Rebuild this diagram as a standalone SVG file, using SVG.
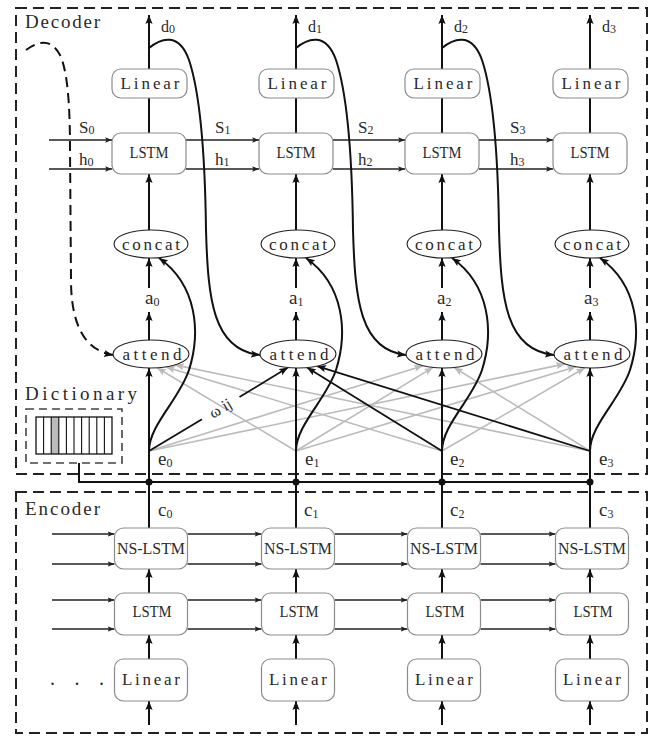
<svg xmlns="http://www.w3.org/2000/svg" width="656" height="736" viewBox="0 0 656 736">
<style>
.mono{font-family:"Liberation Serif","DejaVu Serif",serif;fill:#2a2a2a}
.serif{font-family:"Liberation Serif","DejaVu Serif",serif;fill:#2a2a2a}
.box{fill:#fff;stroke:#8c8c8c;stroke-width:1.2}
.ell{fill:#fff;stroke:#222;stroke-width:1.1}
.frame{fill:none;stroke:#222;stroke-width:2;stroke-dasharray:11 6}
.th{stroke:#111;stroke-width:2;fill:none}
.tn{stroke:#222;stroke-width:1.3;fill:none}
.gr{stroke:#bbb;stroke-width:1.6;fill:none}
.bl{stroke:#111;stroke-width:1.8;fill:none}
.lb{font-size:16px;text-anchor:middle}
.ml{font-size:17px;text-anchor:middle}
.sub{font-size:12px}
</style>
<defs>
<marker id="ak" viewBox="0 0 10 8" refX="10" refY="4" markerWidth="9" markerHeight="7.5" markerUnits="userSpaceOnUse" orient="auto"><path d="M0,0 L10,4 L0,8 L2,4 z" fill="#111"/></marker>
<marker id="ag" viewBox="0 0 10 8" refX="10" refY="4" markerWidth="9" markerHeight="7.5" markerUnits="userSpaceOnUse" orient="auto"><path d="M0,0 L10,4 L0,8 L2,4 z" fill="#bbb"/></marker>
<marker id="as" viewBox="0 0 10 8" refX="10" refY="4" markerWidth="7" markerHeight="5.5" markerUnits="userSpaceOnUse" orient="auto"><path d="M0,0 L10,4 L0,8 L2,4 z" fill="#222"/></marker>
</defs>
<rect width="656" height="736" fill="#fff"/>

<g id="frames">
<rect class="frame" x="16" y="8" width="631" height="466"/>
<rect class="frame" x="16" y="492" width="631" height="241"/>
<text class="mono" x="25" y="28" font-size="19" textLength="75" lengthAdjust="spacing">Decoder</text>
<text class="mono" x="25" y="515" font-size="19" textLength="75" lengthAdjust="spacing">Encoder</text>
</g>

<g id="connectors">
<!-- gray attention lines -->
<line class="gr" x1="296" y1="451" x2="157" y2="367.8" marker-end="url(#ag)"/>
<line class="gr" x1="442" y1="451" x2="166" y2="366.9" marker-end="url(#ag)"/>
<line class="gr" x1="590" y1="451" x2="175" y2="364.9" marker-end="url(#ag)"/>
<line class="gr" x1="149" y1="451" x2="423" y2="365.7" marker-end="url(#ag)"/>
<line class="gr" x1="296" y1="451" x2="433" y2="367.4" marker-end="url(#ag)"/>
<line class="gr" x1="590" y1="451" x2="454" y2="367.5" marker-end="url(#ag)"/>
<line class="gr" x1="149" y1="451" x2="565" y2="363.9" marker-end="url(#ag)"/>
<line class="gr" x1="296" y1="451" x2="576" y2="366.7" marker-end="url(#ag)"/>
<line class="gr" x1="442" y1="451" x2="585" y2="367.8" marker-end="url(#ag)"/>
<!-- black attention lines to attend1 -->
<line class="bl" x1="149" y1="451" x2="202" y2="419.3"/>
<line class="bl" x1="239.5" y1="397" x2="288" y2="367.5" marker-end="url(#ak)"/>
<line class="bl" x1="442" y1="451" x2="307" y2="367.6" marker-end="url(#ak)"/>
<line class="bl" x1="590" y1="451" x2="317" y2="366.1" marker-end="url(#ak)"/>
<text class="serif" transform="translate(220.5,408.5) rotate(-30.8)" x="0" y="5" font-size="16" text-anchor="middle">ω ij</text>

<!-- decoder horizontal S/h arrows -->
<line class="tn" x1="49" y1="140" x2="112" y2="140" marker-end="url(#as)"/>
<line class="tn" x1="49" y1="169" x2="112" y2="169" marker-end="url(#as)"/>
<line class="tn" x1="186" y1="140" x2="259" y2="140" marker-end="url(#as)"/>
<line class="tn" x1="186" y1="169" x2="259" y2="169" marker-end="url(#as)"/>
<line class="tn" x1="333" y1="140" x2="405" y2="140" marker-end="url(#as)"/>
<line class="tn" x1="333" y1="169" x2="405" y2="169" marker-end="url(#as)"/>
<line class="tn" x1="479" y1="140" x2="553" y2="140" marker-end="url(#as)"/>
<line class="tn" x1="479" y1="169" x2="553" y2="169" marker-end="url(#as)"/>

<!-- decoder verticals -->
<g class="th">
<line x1="149" y1="69" x2="149" y2="15" marker-end="url(#ak)"/>
<line x1="296" y1="69" x2="296" y2="15" marker-end="url(#ak)"/>
<line x1="442" y1="69" x2="442" y2="15" marker-end="url(#ak)"/>
<line x1="590" y1="69" x2="590" y2="15" marker-end="url(#ak)"/>
<line x1="149" y1="133" x2="149" y2="98"/>
<line x1="296" y1="133" x2="296" y2="98"/>
<line x1="442" y1="133" x2="442" y2="98"/>
<line x1="590" y1="133" x2="590" y2="98"/>
<line x1="149" y1="230" x2="149" y2="174" marker-end="url(#ak)"/>
<line x1="296" y1="230" x2="296" y2="174" marker-end="url(#ak)"/>
<line x1="442" y1="230" x2="442" y2="174" marker-end="url(#ak)"/>
<line x1="590" y1="230" x2="590" y2="174" marker-end="url(#ak)"/>
<line x1="149" y1="288" x2="149" y2="258" marker-end="url(#ak)"/>
<line x1="296" y1="288" x2="296" y2="258" marker-end="url(#ak)"/>
<line x1="442" y1="288" x2="442" y2="258" marker-end="url(#ak)"/>
<line x1="590" y1="288" x2="590" y2="258" marker-end="url(#ak)"/>
<line x1="149" y1="340" x2="149" y2="312" marker-end="url(#ak)"/>
<line x1="296" y1="340" x2="296" y2="312" marker-end="url(#ak)"/>
<line x1="442" y1="340" x2="442" y2="312" marker-end="url(#ak)"/>
<line x1="590" y1="340" x2="590" y2="312" marker-end="url(#ak)"/>
<line x1="149" y1="528" x2="149" y2="368" marker-end="url(#ak)"/>
<line x1="296" y1="528" x2="296" y2="368" marker-end="url(#ak)"/>
<line x1="442" y1="528" x2="442" y2="368" marker-end="url(#ak)"/>
<line x1="590" y1="528" x2="590" y2="368" marker-end="url(#ak)"/>
<!-- d curves to next attend -->
<path d="M149,48 C161,38 179,32 189,60 C199,90 205,150 206,230 C208,300 213,350 260,355" marker-end="url(#ak)"/>
<path d="M296,48 C308,38 326,32 336,60 C346,90 352,150 353,230 C355,300 360,350 406,355" marker-end="url(#ak)"/>
<path d="M442,48 C454,38 472,32 482,60 C492,90 498,150 499,230 C501,300 506,350 554,355" marker-end="url(#ak)"/>
<!-- e curves to concat -->
<path d="M149,451 C149,425 179,400 189,370 C201,332 197,285 159,258" marker-end="url(#ak)"/>
<path d="M296,451 C296,425 326,400 336,370 C348,332 344,285 306,258" marker-end="url(#ak)"/>
<path d="M442,451 C442,425 472,400 482,370 C494,332 490,285 452,258" marker-end="url(#ak)"/>
<path d="M590,451 C590,425 620,400 630,370 C642,332 638,285 600,258" marker-end="url(#ak)"/>
<!-- encoder verticals -->
<line x1="149" y1="725" x2="149" y2="701" marker-end="url(#ak)"/>
<line x1="296" y1="725" x2="296" y2="701" marker-end="url(#ak)"/>
<line x1="442" y1="725" x2="442" y2="701" marker-end="url(#ak)"/>
<line x1="590" y1="725" x2="590" y2="701" marker-end="url(#ak)"/>
<line x1="149" y1="659" x2="149" y2="635" marker-end="url(#ak)"/>
<line x1="296" y1="659" x2="296" y2="635" marker-end="url(#ak)"/>
<line x1="442" y1="659" x2="442" y2="635" marker-end="url(#ak)"/>
<line x1="590" y1="659" x2="590" y2="635" marker-end="url(#ak)"/>
<line x1="149" y1="593" x2="149" y2="569" marker-end="url(#ak)"/>
<line x1="296" y1="593" x2="296" y2="569" marker-end="url(#ak)"/>
<line x1="442" y1="593" x2="442" y2="569" marker-end="url(#ak)"/>
<line x1="590" y1="593" x2="590" y2="569" marker-end="url(#ak)"/>
<!-- bus -->
<path d="M79,463 V482 H590"/>
</g>
<path d="M26,50 C36,43 50,36 60,55 C67,70 70,100 70,150 L71,280 C71,320 82,350 113,355" fill="none" stroke="#111" stroke-width="2" stroke-dasharray="10 6" marker-end="url(#ak)"/>
<g fill="#111">
<circle cx="149" cy="482" r="3.5"/><circle cx="296" cy="482" r="3.5"/><circle cx="442" cy="482" r="3.5"/><circle cx="590" cy="482" r="3.5"/>
</g>
<!-- encoder horizontals -->
<g class="tn">
<line x1="52" y1="534" x2="114.5" y2="534" marker-end="url(#as)"/>
<line x1="52" y1="564" x2="114.5" y2="564" marker-end="url(#as)"/>
<line x1="52" y1="600" x2="114.5" y2="600" marker-end="url(#as)"/>
<line x1="52" y1="629" x2="114.5" y2="629" marker-end="url(#as)"/>
<line x1="187.5" y1="534" x2="261.5" y2="534" marker-end="url(#as)"/>
<line x1="187.5" y1="564" x2="261.5" y2="564" marker-end="url(#as)"/>
<line x1="187.5" y1="600" x2="261.5" y2="600" marker-end="url(#as)"/>
<line x1="187.5" y1="629" x2="261.5" y2="629" marker-end="url(#as)"/>
<line x1="334.5" y1="534" x2="407.5" y2="534" marker-end="url(#as)"/>
<line x1="334.5" y1="564" x2="407.5" y2="564" marker-end="url(#as)"/>
<line x1="334.5" y1="600" x2="407.5" y2="600" marker-end="url(#as)"/>
<line x1="334.5" y1="629" x2="407.5" y2="629" marker-end="url(#as)"/>
<line x1="480.5" y1="534" x2="555.5" y2="534" marker-end="url(#as)"/>
<line x1="480.5" y1="564" x2="555.5" y2="564" marker-end="url(#as)"/>
<line x1="480.5" y1="600" x2="555.5" y2="600" marker-end="url(#as)"/>
<line x1="480.5" y1="629" x2="555.5" y2="629" marker-end="url(#as)"/>
</g>
</g>

<!-- decoder nodes -->
<g id="dec-linear-0"><rect class="box" x="112" y="69" width="75" height="29" rx="9"/><text class="mono ml" x="150" y="89" textLength="59" lengthAdjust="spacing">Linear</text></g>
<g id="dec-linear-1"><rect class="box" x="259" y="69" width="75" height="29" rx="9"/><text class="mono ml" x="297" y="89" textLength="59" lengthAdjust="spacing">Linear</text></g>
<g id="dec-linear-2"><rect class="box" x="405" y="69" width="75" height="29" rx="9"/><text class="mono ml" x="443" y="89" textLength="59" lengthAdjust="spacing">Linear</text></g>
<g id="dec-linear-3"><rect class="box" x="553" y="69" width="75" height="29" rx="9"/><text class="mono ml" x="591" y="89" textLength="59" lengthAdjust="spacing">Linear</text></g>

<g id="dec-lstm-0"><rect class="box" x="112" y="133" width="74" height="41" rx="9"/><text class="serif lb" x="149" y="158" textLength="39" lengthAdjust="spacingAndGlyphs">LSTM</text></g>
<g id="dec-lstm-1"><rect class="box" x="259" y="133" width="74" height="41" rx="9"/><text class="serif lb" x="296" y="158" textLength="39" lengthAdjust="spacingAndGlyphs">LSTM</text></g>
<g id="dec-lstm-2"><rect class="box" x="405" y="133" width="74" height="41" rx="9"/><text class="serif lb" x="442" y="158" textLength="39" lengthAdjust="spacingAndGlyphs">LSTM</text></g>
<g id="dec-lstm-3"><rect class="box" x="553" y="133" width="74" height="41" rx="9"/><text class="serif lb" x="590" y="158" textLength="39" lengthAdjust="spacingAndGlyphs">LSTM</text></g>

<g id="concat-0"><ellipse class="ell" cx="151" cy="244" rx="37" ry="14"/><text class="mono ml" x="151" y="250" textLength="58" lengthAdjust="spacing">concat</text></g>
<g id="concat-1"><ellipse class="ell" cx="298" cy="244" rx="37" ry="14"/><text class="mono ml" x="298" y="250" textLength="58" lengthAdjust="spacing">concat</text></g>
<g id="concat-2"><ellipse class="ell" cx="444" cy="244" rx="37" ry="14"/><text class="mono ml" x="444" y="250" textLength="58" lengthAdjust="spacing">concat</text></g>
<g id="concat-3"><ellipse class="ell" cx="592" cy="244" rx="37" ry="14"/><text class="mono ml" x="592" y="250" textLength="58" lengthAdjust="spacing">concat</text></g>

<g id="attend-0"><ellipse class="ell" cx="151" cy="354" rx="38" ry="14"/><text class="mono ml" x="152" y="360" textLength="59" lengthAdjust="spacing">attend</text></g>
<g id="attend-1"><ellipse class="ell" cx="298" cy="354" rx="38" ry="14"/><text class="mono ml" x="299" y="360" textLength="59" lengthAdjust="spacing">attend</text></g>
<g id="attend-2"><ellipse class="ell" cx="444" cy="354" rx="38" ry="14"/><text class="mono ml" x="445" y="360" textLength="59" lengthAdjust="spacing">attend</text></g>
<g id="attend-3"><ellipse class="ell" cx="592" cy="354" rx="38" ry="14"/><text class="mono ml" x="593" y="360" textLength="59" lengthAdjust="spacing">attend</text></g>

<!-- labels -->
<g id="labels-d" class="serif" font-size="16">
<text x="161" y="32">d<tspan class="sub" dy="1">0</tspan></text>
<text x="308" y="32">d<tspan class="sub" dy="1">1</tspan></text>
<text x="454" y="32">d<tspan class="sub" dy="1">2</tspan></text>
<text x="602" y="32">d<tspan class="sub" dy="1">3</tspan></text>
</g>
<g id="labels-sh" class="serif" font-size="17">
<text x="79" y="133">S<tspan class="sub" dy="1">0</tspan></text>
<text x="79" y="165">h<tspan class="sub" dy="1">0</tspan></text>
<text x="215" y="133">S<tspan class="sub" dy="1">1</tspan></text>
<text x="215" y="165">h<tspan class="sub" dy="1">1</tspan></text>
<text x="358" y="133">S<tspan class="sub" dy="1">2</tspan></text>
<text x="358" y="165">h<tspan class="sub" dy="1">2</tspan></text>
<text x="510" y="133">S<tspan class="sub" dy="1">3</tspan></text>
<text x="510" y="165">h<tspan class="sub" dy="1">3</tspan></text>
</g>
<g id="labels-a" class="serif" font-size="19">
<text x="145" y="304">a<tspan class="sub" dy="2">0</tspan></text>
<text x="289" y="304">a<tspan class="sub" dy="2">1</tspan></text>
<text x="437" y="304">a<tspan class="sub" dy="2">2</tspan></text>
<text x="584" y="304">a<tspan class="sub" dy="2">3</tspan></text>
</g>
<g id="labels-e" class="serif" font-size="19">
<text x="158" y="465">e<tspan class="sub" dy="2">0</tspan></text>
<text x="305" y="465">e<tspan class="sub" dy="2">1</tspan></text>
<text x="450" y="465">e<tspan class="sub" dy="2">2</tspan></text>
<text x="599" y="465">e<tspan class="sub" dy="2">3</tspan></text>
</g>
<g id="labels-c" class="serif" font-size="19">
<text x="158" y="516">c<tspan class="sub" dy="2">0</tspan></text>
<text x="304" y="516">c<tspan class="sub" dy="2">1</tspan></text>
<text x="450" y="516">c<tspan class="sub" dy="2">2</tspan></text>
<text x="599" y="516">c<tspan class="sub" dy="2">3</tspan></text>
</g>

<!-- dictionary -->
<g id="dictionary">
<text class="mono" x="25" y="400" font-size="19" textLength="112" lengthAdjust="spacing">Dictionary</text>
<rect x="26" y="409" width="96" height="54" fill="none" stroke="#444" stroke-width="1.6" stroke-dasharray="8 5"/>
<rect x="51.2" y="417" width="7.6" height="37" fill="#bbb"/>
<rect x="36" y="417" width="76" height="37" fill="none" stroke="#111" stroke-width="1.3"/>
<path d="M43.6,417 V454 M51.2,417 V454 M58.8,417 V454 M66.4,417 V454 M74,417 V454 M81.6,417 V454 M89.2,417 V454 M96.8,417 V454 M104.4,417 V454" stroke="#111" stroke-width="1.1"/>
</g>

<!-- encoder nodes -->
<g id="ns-lstm-0"><rect class="box" x="114.5" y="528" width="73" height="41" rx="9"/><text class="serif lb" x="151" y="554" textLength="68" lengthAdjust="spacingAndGlyphs">NS-LSTM</text></g>
<g id="ns-lstm-1"><rect class="box" x="261.5" y="528" width="73" height="41" rx="9"/><text class="serif lb" x="298" y="554" textLength="68" lengthAdjust="spacingAndGlyphs">NS-LSTM</text></g>
<g id="ns-lstm-2"><rect class="box" x="407.5" y="528" width="73" height="41" rx="9"/><text class="serif lb" x="444" y="554" textLength="68" lengthAdjust="spacingAndGlyphs">NS-LSTM</text></g>
<g id="ns-lstm-3"><rect class="box" x="555.5" y="528" width="73" height="41" rx="9"/><text class="serif lb" x="592" y="554" textLength="68" lengthAdjust="spacingAndGlyphs">NS-LSTM</text></g>

<g id="enc-lstm-0"><rect class="box" x="114.5" y="593" width="73" height="42" rx="9"/><text class="serif lb" x="152" y="617" textLength="39" lengthAdjust="spacingAndGlyphs">LSTM</text></g>
<g id="enc-lstm-1"><rect class="box" x="261.5" y="593" width="73" height="42" rx="9"/><text class="serif lb" x="299" y="617" textLength="39" lengthAdjust="spacingAndGlyphs">LSTM</text></g>
<g id="enc-lstm-2"><rect class="box" x="407.5" y="593" width="73" height="42" rx="9"/><text class="serif lb" x="445" y="617" textLength="39" lengthAdjust="spacingAndGlyphs">LSTM</text></g>
<g id="enc-lstm-3"><rect class="box" x="555.5" y="593" width="73" height="42" rx="9"/><text class="serif lb" x="593" y="617" textLength="39" lengthAdjust="spacingAndGlyphs">LSTM</text></g>

<g id="enc-linear-0"><rect class="box" x="114.5" y="659" width="73" height="42" rx="9"/><text class="mono ml" x="151" y="685" textLength="58" lengthAdjust="spacing">Linear</text></g>
<g id="enc-linear-1"><rect class="box" x="261.5" y="659" width="73" height="42" rx="9"/><text class="mono ml" x="298" y="685" textLength="58" lengthAdjust="spacing">Linear</text></g>
<g id="enc-linear-2"><rect class="box" x="407.5" y="659" width="73" height="42" rx="9"/><text class="mono ml" x="444" y="685" textLength="58" lengthAdjust="spacing">Linear</text></g>
<g id="enc-linear-3"><rect class="box" x="555.5" y="659" width="73" height="42" rx="9"/><text class="mono ml" x="592" y="685" textLength="58" lengthAdjust="spacing">Linear</text></g>

<g id="ellipsis"><text class="serif" x="50" y="685" font-size="20" textLength="54" lengthAdjust="spacing">. . .</text></g>
</svg>
